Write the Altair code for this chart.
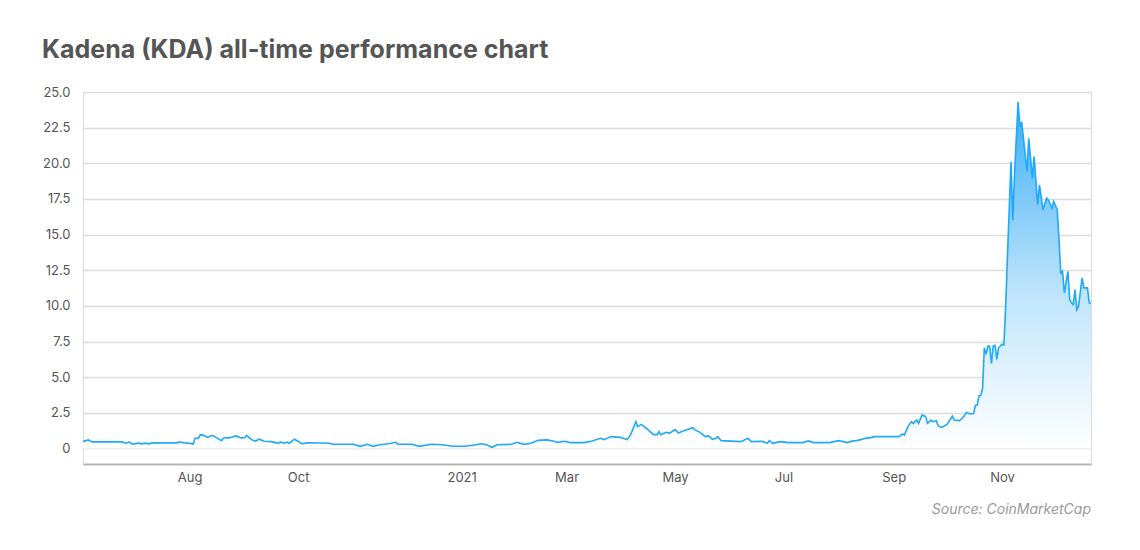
import altair as alt
import pandas as pd

dates = [
    "2020-06-02", "2020-06-05", "2020-06-07", "2020-06-24", "2020-06-26", "2020-06-28", "2020-06-30",
    "2020-07-03", "2020-07-05", "2020-07-07", "2020-07-09", "2020-07-11", "2020-07-25", "2020-07-26",
    "2020-07-29", "2020-08-01", "2020-08-03", "2020-08-04", "2020-08-06", "2020-08-07", "2020-08-09",
    "2020-08-11", "2020-08-14", "2020-08-16", "2020-08-19", "2020-08-20", "2020-08-23", "2020-08-27",
    "2020-08-30", "2020-09-01", "2020-09-02", "2020-09-05", "2020-09-07", "2020-09-09", "2020-09-12",
    "2020-09-16", "2020-09-19", "2020-09-20", "2020-09-21", "2020-09-23", "2020-09-25", "2020-09-26",
    "2020-09-29", "2020-10-01", "2020-10-03", "2020-10-06", "2020-10-13", "2020-10-19", "2020-10-20",
    "2020-11-01", "2020-11-05", "2020-11-09", "2020-11-12", "2020-11-16", "2020-11-21", "2020-11-25",
    "2020-11-26", "2020-12-04", "2020-12-08", "2020-12-15", "2020-12-21", "2020-12-27",
    "2021-01-03", "2021-01-09", "2021-01-12", "2021-01-15", "2021-01-18", "2021-01-21", "2021-01-29",
    "2021-02-01", "2021-02-05", "2021-02-09", "2021-02-13", "2021-02-18", "2021-02-22", "2021-02-24",
    "2021-02-28", "2021-03-03", "2021-03-11", "2021-03-15", "2021-03-20", "2021-03-22", "2021-03-26",
    "2021-03-31", "2021-04-04", "2021-04-06", "2021-04-07", "2021-04-09", "2021-04-10", "2021-04-12",
    "2021-04-15", "2021-04-17", "2021-04-19", "2021-04-21", "2021-04-22", "2021-04-23", "2021-04-26",
    "2021-04-28", "2021-05-01", "2021-05-03", "2021-05-06", "2021-05-11", "2021-05-12", "2021-05-15",
    "2021-05-18", "2021-05-20", "2021-05-22", "2021-05-24", "2021-05-25", "2021-05-27", "2021-06-07",
    "2021-06-11", "2021-06-13", "2021-06-19", "2021-06-22", "2021-06-23", "2021-06-25", "2021-06-29",
    "2021-07-04", "2021-07-12", "2021-07-15", "2021-07-18", "2021-07-27", "2021-08-01", "2021-08-06",
    "2021-08-09", "2021-08-11", "2021-08-13", "2021-08-16", "2021-08-19", "2021-08-21", "2021-09-04",
    "2021-09-06", "2021-09-07", "2021-09-09", "2021-09-11", "2021-09-12", "2021-09-14", "2021-09-15",
    "2021-09-17", "2021-09-19", "2021-09-20", "2021-09-22", "2021-09-23", "2021-09-25", "2021-09-26",
    "2021-09-28", "2021-10-01", "2021-10-04", "2021-10-05", "2021-10-08", "2021-10-10", "2021-10-12",
    "2021-10-14", "2021-10-16", "2021-10-17", "2021-10-18", "2021-10-19", "2021-10-20", "2021-10-21",
    "2021-10-22", "2021-10-23", "2021-10-24", "2021-10-25", "2021-10-26", "2021-10-27", "2021-10-28",
    "2021-10-29", "2021-10-30", "2021-11-01", "2021-11-02", "2021-11-03", "2021-11-04", "2021-11-06",
    "2021-11-07", "2021-11-08", "2021-11-10", "2021-11-11", "2021-11-12", "2021-11-15", "2021-11-16",
    "2021-11-18", "2021-11-19", "2021-11-21", "2021-11-22", "2021-11-24", "2021-11-26", "2021-11-27",
    "2021-11-29", "2021-11-30", "2021-12-02", "2021-12-03", "2021-12-04", "2021-12-05", "2021-12-06",
    "2021-12-08", "2021-12-09", "2021-12-10", "2021-12-11", "2021-12-12", "2021-12-13", "2021-12-14",
    "2021-12-16", "2021-12-17", "2021-12-19", "2021-12-20", "2021-12-21",
]

prices = [
    0.48, 0.60, 0.46, 0.46, 0.37, 0.45, 0.30,
    0.37, 0.32, 0.37, 0.32, 0.39, 0.39, 0.46,
    0.39, 0.37, 0.30, 0.71, 0.72, 0.97, 0.92,
    0.78, 0.92, 0.76, 0.55, 0.73, 0.74, 0.88,
    0.74, 0.76, 0.92, 0.60, 0.51, 0.65, 0.51,
    0.48, 0.39, 0.37, 0.46, 0.37, 0.44, 0.37,
    0.65, 0.51, 0.33, 0.39, 0.38, 0.36, 0.29,
    0.29, 0.15, 0.29, 0.15, 0.26, 0.33, 0.43,
    0.29, 0.29, 0.15, 0.29, 0.26, 0.15,
    0.15, 0.26, 0.33, 0.26, 0.08, 0.26, 0.29,
    0.43, 0.29, 0.36, 0.57, 0.60, 0.50, 0.43,
    0.50, 0.41, 0.41, 0.50, 0.71, 0.62, 0.83,
    0.78, 0.62, 0.97, 1.25, 1.88, 1.53, 1.69,
    1.41, 1.18, 0.97, 0.97, 1.18, 0.97, 1.13,
    1.08, 1.32, 1.08, 1.25, 1.46, 1.32, 1.13,
    0.83, 0.88, 0.64, 0.71, 0.83, 0.55, 0.48,
    0.71, 0.48, 0.50, 0.36, 0.55, 0.36, 0.48,
    0.41, 0.41, 0.53, 0.41, 0.41, 0.55, 0.41,
    0.53, 0.55, 0.60, 0.71, 0.76, 0.83, 0.83,
    1.01, 0.94, 1.53, 1.88, 1.76, 1.99, 1.76,
    2.35, 2.23, 1.76, 1.99, 1.88, 1.95, 1.60,
    1.48, 1.69, 2.27, 1.99, 1.95, 2.17, 2.52,
    2.42, 2.45, 3.03, 3.03, 3.68, 3.72, 4.20,
    7.06, 6.60, 7.18, 7.18, 5.97, 7.18, 7.23,
    6.25, 7.06, 7.30, 7.27, 9.98, 13.47, 20.10,
    16.00, 19.30, 24.31, 22.56, 22.91, 19.42, 21.75,
    18.95, 20.47, 17.09, 18.48, 16.74, 17.55, 17.44,
    16.85, 17.32, 16.74, 14.64, 12.31, 12.42, 10.91,
    12.42, 10.44, 10.21, 10.09, 11.14, 9.74, 9.98,
    11.96, 11.26, 11.26, 10.21, 10.16,
]

y_ticks = [0, 2.5, 5, 7.5, 10, 12.5, 15, 17.5, 20, 22.5, 25]
x_ticks = [(2020, 8), (2020, 10), (2021, 1), (2021, 3), (2021, 5), (2021, 7), (2021, 9), (2021, 11)]
title_text = "Kadena (KDA) all-time performance chart"
source_text = ["Source: CoinMarketCap"]

df = pd.DataFrame({"date": dates, "price": prices})
src_df = pd.DataFrame({"t": source_text})

FONT = "Inter"
W, H = 1008, 372

x_enc = alt.X(
    "date:T",
    scale=alt.Scale(
        type="utc",
        domain=[alt.DateTime(year=2020, month=6, date=2, utc=True),
                alt.DateTime(year=2021, month=12, date=21, utc=True)],
    ),
    axis=alt.Axis(
        values=[alt.DateTime(year=y, month=m, date=1, utc=True) for y, m in x_ticks],
        labelExpr="utcFormat(datum.value, '%m') == '01' ? utcFormat(datum.value, '%Y') : utcFormat(datum.value, '%b')",
        grid=False, ticks=False, domainColor="#b5b5b5", domainWidth=2,
        labelColor="#555555", labelFontSize=13, labelPadding=7, labelFont=FONT,
        title=None,
    ),
)

y_enc = alt.Y(
    "price:Q",
    scale=alt.Scale(domain=[-1.09, 25], nice=False, zero=False),
    axis=alt.Axis(
        values=y_ticks,
        labelExpr="datum.value == 0 ? '0' : format(datum.value, '.1f')",
        grid=True, gridColor="#dcdcdc", gridWidth=1.5, domain=False, ticks=False,
        labelPadding=13, labelColor="#555555", labelFontSize=13, labelFont=FONT,
        title=None,
    ),
)

area = alt.Chart(df).mark_area(
    color=alt.Gradient(
        gradient="linear",
        stops=[alt.GradientStop(color="#3aaef6", offset=0),
               alt.GradientStop(color="#bfe4fb", offset=0.55),
               alt.GradientStop(color="#ffffff", offset=1)],
        x1=0, x2=0, y1=0, y2=1,
    ),
    interpolate="linear",
).encode(x=x_enc, y=y_enc, y2=alt.datum(0))

line = alt.Chart(df).mark_line(color="#1ea9fa", strokeWidth=1.6).encode(x=x_enc, y=y_enc)

source = alt.Chart(src_df).mark_text(
    align="right", baseline="middle", font=FONT, fontSize=14, fontStyle="italic",
    color="#9a9a9a",
).encode(x=alt.value(W), y=alt.value(418), text="t:N")

chart = alt.layer(area, line, source).properties(
    width=W,
    height=H,
    title=alt.TitleParams(
        title_text, anchor="start", frame="group", font=FONT, fontSize=25,
        fontWeight=700, color="#555555", dx=-41, offset=23,
    ),
    autosize=alt.AutoSizeParams(type="none"),
    padding={"left": 75, "top": 84, "right": 33, "bottom": 60},
).configure_view(stroke=None).configure(background="white")

chart.save("out.html", embed_options={"renderer": "svg", "actions": False})
